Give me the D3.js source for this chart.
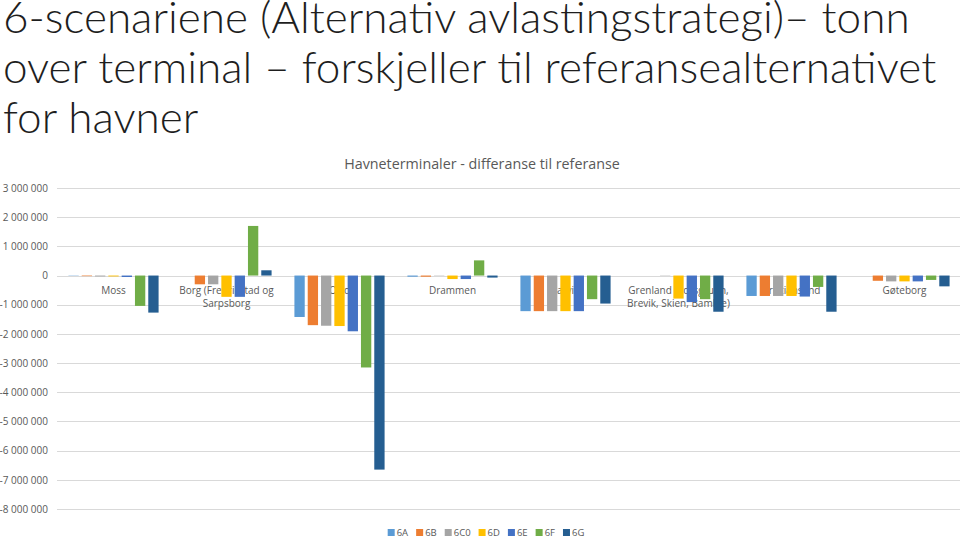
<!DOCTYPE html>
<html><head><meta charset="utf-8">
<script src="https://cdn.jsdelivr.net/npm/d3@7"></script>
<style>
html,body{margin:0;padding:0;background:#fff;}
svg{display:block;}
</style></head>
<body>
<svg id="chart" width="960" height="538"></svg>
<script>
const titleLines = ["6-scenariene (Alternativ avlastingstrategi)\u2013 tonn", "over terminal \u2013 forskjeller til referansealternativet", "for havner"];
const chartTitle = "Havneterminaler - differanse til referanse";
const categories = ["Moss", "Borg (Fredrikstad og Sarpsborg", "Oslo", "Drammen", "Larvik", "Grenland (Porsgrunn, Brevik, Skien, Bamble)", "Kristiansand", "Gøteborg"];
const seriesNames = ["6A", "6B", "6C0", "6D", "6E", "6F", "6G"];
const v6A  = [-10000, 0, -1420000, -40000, -1220000, 0, -700000, 0];
const v6B  = [-20000, -300000, -1700000, -40000, -1220000, 0, -700000, -180000];
const v6C0 = [-30000, -300000, -1720000, -10000, -1220000, -10000, -700000, -200000];
const v6D  = [-30000, -730000, -1730000, -120000, -1220000, -790000, -700000, -200000];
const v6E  = [-50000, -730000, -1910000, -120000, -1220000, -910000, -720000, -200000];
const v6F  = [-1040000, 1700000, -3150000, 520000, -810000, -810000, -390000, -150000];
const v6G  = [-1270000, 180000, -6650000, -70000, -960000, -1240000, -1240000, -370000];
const yTicks = [3000000, 2000000, 1000000, 0, -1000000, -2000000, -3000000, -4000000, -5000000, -6000000, -7000000, -8000000];
const colors = ["#5B9BD5", "#ED7D31", "#A5A5A5", "#FFC000", "#4472C4", "#70AD47", "#255E91"];

const seriesValues = [v6A, v6B, v6C0, v6D, v6E, v6F, v6G];
const svg = d3.select("#chart");
const font = "'Open Sans', 'Liberation Sans', sans-serif";
const textCol = "#595959";

// Title
const tg = svg.append("g");
const tl = tg.selectAll("text").data(titleLines).join("text")
  .attr("x", 3).attr("y", (d, i) => 33 + i * 50)
  .attr("font-family", "Lato, 'Open Sans', sans-serif").attr("font-weight", 300)
  .attr("font-size", 40).attr("fill", "#1e1e1e").text(d => d);
const w0 = tl.nodes()[0].getComputedTextLength();
const fs = 40 * 907 / w0;
tl.attr("font-size", fs);

// Scales
const x0 = d3.scaleBand().domain(categories).range([57, 961]).paddingInner(0).paddingOuter(0);
const bw = x0.bandwidth();
const x1 = d3.scaleBand().domain(seriesNames).range([bw * 0.101, bw * 0.899]).paddingInner(0.225).paddingOuter(0);
const y = d3.scaleLinear().domain([-8000000, 3000000]).range([509, 188]);

// Gridlines
svg.append("g").selectAll("line").data(yTicks).join("line")
  .attr("x1", 57).attr("x2", 960)
  .attr("y1", d => Math.round(y(d)) + 0.5).attr("y2", d => Math.round(y(d)) + 0.5)
  .attr("stroke", "#D9D9D9").attr("stroke-width", 1);

// Y axis labels
const fmt = d => (d < 0 ? "-" : "") + d3.format(",")(Math.abs(d)).replace(/,/g, " ");
const yAxis = d3.axisLeft(y).tickValues(yTicks).tickSize(0).tickPadding(0).tickFormat(fmt);
const ya = svg.append("g").attr("transform", "translate(48,0)").call(yAxis);
ya.select(".domain").remove();
ya.selectAll("text").attr("font-family", font).attr("font-size", 10).attr("fill", textCol);

// Chart title
svg.append("text").attr("x", 482).attr("y", 169).attr("text-anchor", "middle")
  .attr("font-family", font).attr("font-size", 14.3).attr("fill", textCol).text(chartTitle);

// Category labels (wrapped)
function wrapLines(str, maxW, size) {
  const tmp = svg.append("text").attr("font-family", font).attr("font-size", size);
  const words = str.split(" ");
  const lines = [];
  let cur = "";
  words.forEach(w => {
    const test = cur ? cur + " " + w : w;
    tmp.text(test);
    if (tmp.node().getComputedTextLength() > maxW && cur) { lines.push(cur); cur = w; }
    else cur = test;
  });
  if (cur) lines.push(cur);
  tmp.remove();
  return lines;
}
const catG = svg.append("g");
categories.forEach(c => {
  const lines = wrapLines(c, bw - 1, 10);
  const t = catG.append("text").attr("text-anchor", "middle")
    .attr("font-family", font).attr("font-size", 10).attr("fill", textCol);
  lines.forEach((ln, i) => {
    t.append("tspan").attr("x", x0(c) + bw / 2).attr("y", 294 + i * 13).text(ln);
  });
});

// Bars
const data = [];
categories.forEach((c, ci) => seriesNames.forEach((s, si) => data.push({c, s, si, v: seriesValues[si][ci]})));
svg.append("g").selectAll("rect").data(data).join("rect")
  .attr("x", d => x0(d.c) + x1(d.s))
  .attr("width", x1.bandwidth())
  .attr("y", d => Math.min(y(d.v), y(0)))
  .attr("height", d => Math.abs(y(d.v) - y(0)))
  .attr("fill", d => colors[d.si]);

// Legend
const lg = svg.append("g");
let lx = 0;
seriesNames.forEach((s, i) => {
  const g = lg.append("g");
  g.append("rect").attr("x", 0).attr("y", -7).attr("width", 7).attr("height", 7).attr("fill", colors[i]);
  const t = g.append("text").attr("x", 9).attr("y", 0).attr("font-family", font).attr("font-size", 9.5).attr("fill", textCol).text(s);
  const w = 9 + t.node().getComputedTextLength();
  g.attr("transform", `translate(${lx},0)`);
  lx += w + 8;
});
const totalW = lx - 8;
lg.attr("transform", `translate(${486 - totalW / 2},536)`);
</script>
</body></html>
